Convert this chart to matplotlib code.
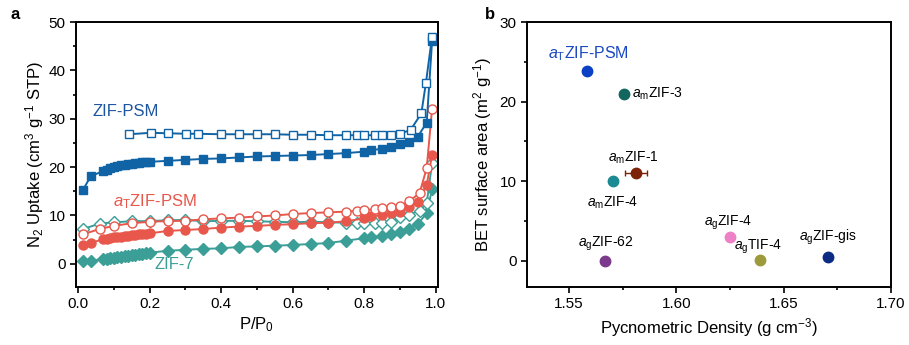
import matplotlib
matplotlib.use('Agg')
import matplotlib.pyplot as plt
from matplotlib.ticker import MultipleLocator

plt.rcParams['font.family'] = ['Liberation Sans', 'DejaVu Sans']
plt.rcParams['mathtext.fontset'] = 'custom'
plt.rcParams['mathtext.rm'] = 'Liberation Sans'
plt.rcParams['mathtext.it'] = 'Liberation Sans:italic'

# ---- panel a : N2 isotherms ----
p_fill = [0.013, 0.035, 0.07, 0.08, 0.09, 0.10, 0.11, 0.12, 0.13, 0.14, 0.15, 0.16, 0.17, 0.18, 0.19, 0.20,
          0.25, 0.30, 0.35, 0.40, 0.45, 0.50, 0.55, 0.60, 0.65, 0.70, 0.75, 0.80, 0.82, 0.85, 0.875, 0.90,
          0.925, 0.95, 0.975, 0.99]
psm_ads = [15.2, 18.1, 19.2, 19.5, 19.8, 20.0, 20.2, 20.4, 20.5, 20.6, 20.7, 20.8, 20.9, 21.0, 21.05, 21.1,
           21.3, 21.5, 21.7, 21.8, 22.0, 22.2, 22.3, 22.4, 22.5, 22.7, 22.9, 23.2, 23.5, 23.8, 24.2, 24.8,
           25.3, 26.3, 29.2, 46.0]
atpsm_ads = [3.9, 4.3, 5.1, 5.2, 5.3, 5.45, 5.55, 5.65, 5.75, 5.85, 5.95, 6.05, 6.1, 6.2, 6.25, 6.3,
             6.8, 7.0, 7.2, 7.5, 7.7, 7.85, 8.05, 8.2, 8.4, 8.5, 8.8, 9.4, 9.8, 10.1, 10.5, 10.8,
             11.8, 12.8, 16.3, 22.5]
zif7_ads = [0.5, 0.6, 1.0, 1.1, 1.2, 1.3, 1.4, 1.5, 1.6, 1.7, 1.8, 1.9, 2.0, 2.1, 2.2, 2.3,
            2.7, 2.9, 3.1, 3.2, 3.5, 3.6, 3.75, 3.9, 4.1, 4.3, 4.8, 5.3, 5.5, 5.8, 6.1, 6.6,
            7.3, 8.2, 10.5, 15.4]

p_psm_des = [0.143, 0.203, 0.252, 0.302, 0.335, 0.40, 0.45, 0.50, 0.55, 0.60, 0.65, 0.70, 0.75, 0.78,
             0.80, 0.83, 0.85, 0.875, 0.90, 0.93, 0.96, 0.973, 0.99]
psm_des = [26.8, 27.1, 27.0, 26.9, 26.9, 26.8, 26.8, 26.8, 26.8, 26.7, 26.7, 26.6, 26.6, 26.6,
           26.6, 26.6, 26.6, 26.7, 26.9, 27.7, 31.1, 37.5, 47.0]

p_des = [0.013, 0.06, 0.10, 0.15, 0.20, 0.25, 0.30, 0.35, 0.40, 0.45, 0.50, 0.55, 0.60, 0.65, 0.70,
         0.75, 0.78, 0.80, 0.83, 0.85, 0.875, 0.90, 0.925, 0.955, 0.975, 0.99]
atpsm_des = [6.1, 7.2, 7.85, 8.4, 8.7, 8.85, 8.9, 9.2, 9.4, 9.55, 9.8, 10.0, 10.3, 10.5, 10.65,
             10.8, 10.95, 11.1, 11.3, 11.5, 11.8, 12.0, 12.9, 14.6, 19.8, 32.0]
zif7_des = [7.2, 8.3, 8.6, 8.8, 8.85, 9.0, 9.1, 8.8, 8.9, 8.9, 8.8, 8.7, 8.6, 8.7, 8.6,
            8.5, 8.5, 8.4, 8.5, 8.4, 8.6, 9.6, 10.2, 11.0, 12.5, 20.8]

# ---- panel b : BET vs density ----
names = [r'$\mathit{a}_{\mathrm{T}}$ZIF-PSM', r'$\mathit{a}_{\mathrm{m}}$ZIF-3', r'$\mathit{a}_{\mathrm{m}}$ZIF-1',
         r'$\mathit{a}_{\mathrm{m}}$ZIF-4', r'$\mathit{a}_{\mathrm{g}}$ZIF-4', r'$\mathit{a}_{\mathrm{g}}$TIF-4',
         r'$\mathit{a}_{\mathrm{g}}$ZIF-gis', r'$\mathit{a}_{\mathrm{g}}$ZIF-62']
density = [1.5584, 1.5755, 1.5813, 1.5706, 1.6249, 1.6390, 1.6708, 1.5666]
dens_err = [0.0, 0.0015, 0.005, 0.0, 0.0, 0.0015, 0.0, 0.0]
bet = [23.8, 21.0, 11.0, 10.0, 3.0, 0.1, 0.5, 0.0]
pt_colors = ['#0b40c4', '#14675f', '#7c2208', '#1b8a92', '#ee80c6', '#9d9a3c', '#0b2b85', '#7b3a8b']
lbl_colors = ['#1a48c0', 'k', 'k', 'k', 'k', 'k', 'k', 'k']
lbl_size = [11.5, 10, 10, 10, 10, 10, 10, 10]
lbl_pos = [(1.5403, 26.0), (1.5792, 21.0), (1.5800, 12.9), (1.5705, 7.3),
           (1.6240, 4.8), (1.6380, 1.8), (1.6705, 3.0), (1.5670, 2.1)]
lbl_ha = ['left', 'left', 'center', 'center', 'center', 'center', 'center', 'center']

blue = '#1064a5'
red = '#e8574b'
teal = '#3b9e97'

fig = plt.figure(figsize=(9.09, 3.45), dpi=100)
ax1 = fig.add_axes([0.0836, 0.168, 0.398, 0.768])
ax2 = fig.add_axes([0.5798, 0.168, 0.4004, 0.768])

ax1.plot(p_fill, zif7_ads, '-D', color=teal, ms=6, lw=1.4)
ax1.plot(p_des, zif7_des, '-D', color=teal, mfc='white', ms=6, lw=1.4)
ax1.plot(p_fill, atpsm_ads, '-o', color=red, ms=6.5, lw=1.4)
ax1.plot(p_des, atpsm_des, '-o', color=red, mfc='white', ms=6.5, lw=1.4)
ax1.plot(p_fill, psm_ads, '-s', color=blue, ms=5.5, lw=1.4)
ax1.plot(p_psm_des, psm_des, '-s', color=blue, mfc='white', ms=5.5, lw=1.4)

ax1.text(0.040, 30.5, 'ZIF-PSM', color='#1d55a0', fontsize=12)
ax1.text(0.097, 11.9, r'$\mathit{a}_{\mathrm{T}}$ZIF-PSM', color=red, fontsize=12)
ax1.text(0.215, -1.0, 'ZIF-7', color=teal, fontsize=12)

ax1.set_xlim(-0.006, 1.006)
ax1.set_ylim(-4.8, 50)
ax1.xaxis.set_major_locator(MultipleLocator(0.2))
ax1.xaxis.set_minor_locator(MultipleLocator(0.1))
ax1.yaxis.set_major_locator(MultipleLocator(10))
ax1.yaxis.set_minor_locator(MultipleLocator(5))
ax1.set_xticks([0, 0.2, 0.4, 0.6, 0.8, 1.0])
ax1.set_xticklabels(['0.0', '0.2', '0.4', '0.6', '0.8', '1.0'])
ax1.set_xlabel(r'P/P$_0$', fontsize=12, labelpad=3)
ax1.set_ylabel(r'N$_2$ Uptake (cm$^3$ g$^{-1}$ STP)', fontsize=12, labelpad=2)

for i in range(len(names)):
    ax2.errorbar(density[i], bet[i], xerr=dens_err[i], fmt='o', color=pt_colors[i], ms=7.5,
                 capsize=2.5, elinewidth=1, capthick=1)
    ax2.text(lbl_pos[i][0], lbl_pos[i][1], names[i], color=lbl_colors[i], fontsize=lbl_size[i],
             ha=lbl_ha[i], va='center')

ax2.set_xlim(1.5305, 1.70)
ax2.set_ylim(-3.3, 30)
ax2.xaxis.set_major_locator(MultipleLocator(0.05))
ax2.xaxis.set_minor_locator(MultipleLocator(0.025))
ax2.yaxis.set_major_locator(MultipleLocator(10))
ax2.yaxis.set_minor_locator(MultipleLocator(5))
ax2.set_xticks([1.55, 1.60, 1.65, 1.70])
ax2.set_xticklabels(['1.55', '1.60', '1.65', '1.70'])
ax2.set_xlabel(r'Pycnometric Density (g cm$^{-3}$)', fontsize=12, labelpad=3)
ax2.set_ylabel(r'BET surface area (m$^2$ g$^{-1}$)', fontsize=12, labelpad=4)

for ax in (ax1, ax2):
    for s in ax.spines.values():
        s.set_linewidth(1.4)
    ax.tick_params(which='both', direction='out', top=False, right=False, width=1.2, labelsize=11)
    ax.tick_params(which='major', length=4)
    ax.tick_params(which='minor', length=2.5)

fig.text(0.012, 0.945, 'a', fontsize=12, fontweight='bold')
fig.text(0.534, 0.945, 'b', fontsize=12, fontweight='bold')

fig.savefig('out.png', dpi=100)
